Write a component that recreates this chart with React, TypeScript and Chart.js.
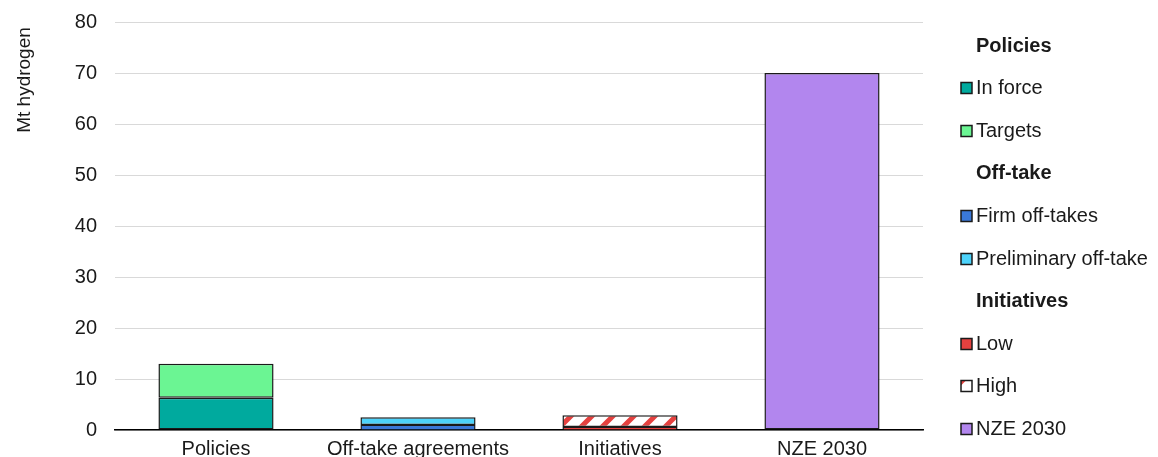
import React, { useEffect, useRef } from 'react';
import { Chart, registerables } from 'chart.js';

Chart.register(...registerables);

const categories = ['Policies', 'Off-take agreements', 'Initiatives', 'NZE 2030'];
const inForce = [6.3, null, null, null];
const targets = [6.7, null, null, null];
const firmOffTakes = [null, 1.0, null, null];
const preliminaryOffTake = [null, 1.5, null, null];
const initiativesLow = [null, null, 0.6, null];
const initiativesHigh = [null, null, 2.3, null];
const nze2030 = [null, null, null, 70];
const yMin = 0;
const yMax = 80;
const yStep = 10;
const yTitle = 'Mt hydrogen';
const legendGroups = [
  { heading: 'Policies', items: ['In force', 'Targets'] },
  { heading: 'Off-take', items: ['Firm off-takes', 'Preliminary off-take'] },
  { heading: 'Initiatives', items: ['Low', 'High'] },
  { heading: null, items: ['NZE 2030'] },
];

const FONT = '"Liberation Sans", Arial, sans-serif';
const TEXT = '#1a1a1a';
const RED = '#E5413F';

function makeStripePattern(ctx: CanvasRenderingContext2D) {
  const s = 21;
  const c = document.createElement('canvas');
  c.width = s;
  c.height = s;
  const g = c.getContext('2d')!;
  g.fillStyle = '#ffffff';
  g.fillRect(0, 0, s, s);
  g.strokeStyle = RED;
  g.lineWidth = 5;
  g.beginPath();
  for (const k of [-s, 0, s]) {
    g.moveTo(k - 3, s + 3);
    g.lineTo(k + s + 3, -3);
  }
  g.stroke();
  return ctx.createPattern(c, 'repeat');
}

export default function App() {
  const ref = useRef<HTMLCanvasElement>(null);

  useEffect(() => {
    const canvas = ref.current!;
    const ctx = canvas.getContext('2d')!;
    const stripe = makeStripePattern(ctx);

    const border = '#1a1a1a';
    const common = {
      borderColor: border,
      borderWidth: 1.5,
      borderSkipped: false as const,
      barPercentage: 0.57,
      categoryPercentage: 1,
      stack: 's',
    };
    const thin = { top: 1, left: 1.5, right: 1.5, bottom: 0 };

    const datasets: any[] = [
      { label: 'In force', data: inForce, backgroundColor: '#00AA9E', ...common },
      { label: 'Targets', data: targets, backgroundColor: '#6BF593', ...common },
      { label: 'Firm off-takes', data: firmOffTakes, backgroundColor: '#3A78D8', ...common, borderWidth: thin },
      { label: 'Preliminary off-take', data: preliminaryOffTake, backgroundColor: '#4DD3FB', ...common },
      { label: 'Low', data: initiativesLow, backgroundColor: RED, ...common, borderWidth: thin },
      { label: 'High', data: initiativesHigh, backgroundColor: stripe, ...common },
      { label: 'NZE 2030', data: nze2030, backgroundColor: '#B286EE', ...common },
    ];

    const legendPlugin = {
      id: 'customLegend',
      afterDraw(chart: any) {
        const c = chart.ctx as CanvasRenderingContext2D;
        c.save();
        const y0 = 45;
        const dy = 42.6;
        const boxX = 961;
        const textX = 976;
        const box = 11;
        let row = 0;
        c.textBaseline = 'middle';
        c.textAlign = 'left';
        for (const group of legendGroups) {
          if (group.heading) {
            c.font = `bold 20px ${FONT}`;
            c.fillStyle = TEXT;
            c.fillText(group.heading, textX, y0 + row * dy + 1);
            row++;
          }
          for (const item of group.items) {
            const ds = chart.data.datasets.find((d: any) => d.label === item);
            const y = y0 + row * dy;
            const bx = boxX;
            const by = Math.round(y - box / 2) + 0.5;
            if (item === 'High') {
              c.fillStyle = '#ffffff';
              c.fillRect(bx, by, box, box);
              c.fillStyle = RED;
              c.beginPath();
              c.moveTo(bx, by);
              c.lineTo(bx + 5, by);
              c.lineTo(bx, by + 5);
              c.closePath();
              c.fill();
            } else {
              c.fillStyle = ds ? ds.backgroundColor : '#ccc';
              c.fillRect(bx, by, box, box);
            }
            c.strokeStyle = border;
            c.lineWidth = 1.5;
            c.strokeRect(bx, by, box, box);
            c.font = `20px ${FONT}`;
            c.fillStyle = TEXT;
            c.fillText(item, textX, y + 1);
            row++;
          }
        }
        c.restore();
      },
    };

    const titlePlugin = {
      id: 'yTitle',
      afterDraw(chart: any) {
        const c = chart.ctx as CanvasRenderingContext2D;
        c.save();
        c.translate(25, 80);
        c.rotate(-Math.PI / 2);
        c.font = `19px ${FONT}`;
        c.fillStyle = TEXT;
        c.textAlign = 'center';
        c.textBaseline = 'middle';
        c.fillText(yTitle, 0, 0);
        c.restore();
      },
    };

    const chart = new Chart(canvas, {
      type: 'bar',
      data: { labels: categories, datasets },
      options: {
        animation: false,
        responsive: false,
        devicePixelRatio: 1,
        layout: { padding: { left: 0, right: 235, top: 22, bottom: 0 } },
        plugins: { legend: { display: false }, tooltip: { enabled: false } },
        scales: {
          x: {
            stacked: true,
            grid: { display: false, drawTicks: false },
            border: { display: true, color: '#000000', width: 1.5 },
            ticks: { color: TEXT, font: { family: FONT, size: 20 }, padding: 7, maxRotation: 0, autoSkip: false },
            afterFit(scale: any) {
              scale.height = 27;
              scale.paddingLeft = 0;
              scale.paddingRight = 0;
            },
          },
          y: {
            stacked: true,
            min: yMin,
            max: yMax,
            grid: { color: '#d9d9d9', lineWidth: 1, drawTicks: false },
            border: { display: false },
            ticks: { stepSize: yStep, color: TEXT, font: { family: FONT, size: 20 }, padding: 18 },
            afterFit(scale: any) {
              scale.width = 115;
              scale.paddingTop = 0;
              scale.paddingBottom = 0;
            },
          },
        },
      },
      plugins: [legendPlugin, titlePlugin],
    });
    return () => chart.destroy();
  }, []);

  return (
    <div style={{ position: 'absolute', left: 0, top: 0, width: 1158, height: 457 }}>
      <canvas ref={ref} width={1158} height={457} style={{ display: 'block' }} />
    </div>
  );
}
